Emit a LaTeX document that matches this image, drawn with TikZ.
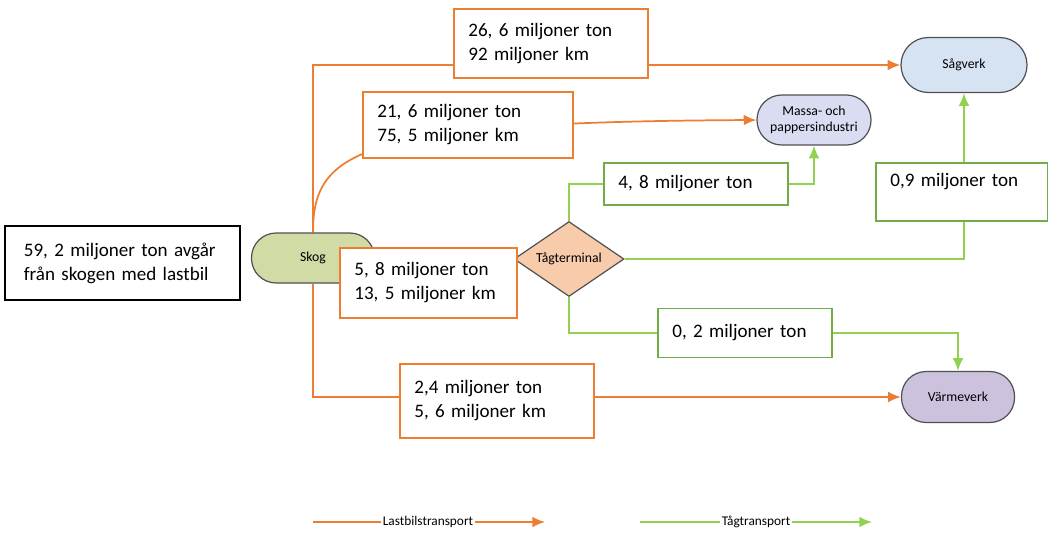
\documentclass[tikz,border=0pt]{standalone}
\usepackage{fontspec}
\setmainfont{Carlito}
\usepackage{xcolor}
\usepackage{tikz}
\usetikzlibrary{shapes,arrows,arrows.meta,positioning,calc}
\usetikzlibrary{shapes.geometric}
\usetikzlibrary{backgrounds}

\definecolor{truckorange}{RGB}{237,125,49}
\definecolor{traingreen}{RGB}{146,208,80}
\definecolor{boxgreen}{RGB}{112,173,71}
\definecolor{shapegray}{RGB}{80,80,80}
\definecolor{skoggreen}{RGB}{209,219,166}
\definecolor{massablue}{RGB}{218,221,242}
\definecolor{sagblue}{RGB}{214,227,242}
\definecolor{varmepurple}{RGB}{204,194,222}
\definecolor{terminalpeach}{RGB}{248,203,170}

\tikzset{
	endpoint/.style={draw=shapegray, line width=0.9pt, rounded corners=18.5pt, inner sep=0pt, align=center, font=\fontsize{10.3}{12}\selectfont},
	flowbox/.style={fill=white, line width=1.3pt, align=left, inner xsep=10.75pt, font=\fontsize{14.3}{18}\selectfont},
	truckbox/.style={flowbox, draw=truckorange},
	trainbox/.style={flowbox, draw=boxgreen},
	truck/.style={draw=truckorange, line width=1.3pt},
	train/.style={draw=traingreen, line width=1.3pt},
	flow/.style={-{Latex[length=9.5pt,width=8pt]}},
	legendtext/.style={inner sep=1pt, font=\fontsize{10}{12}\selectfont}
}

\begin{document}
\begin{tikzpicture}[x=0.75pt,y=-0.75pt]
	\useasboundingbox (0,0) rectangle (1048,532);
	
	% start and end points
	\node[draw=black, line width=1.3pt, align=left, inner xsep=14pt, text width=148pt, minimum height=55.5pt, font=\fontsize{14.3}{18}\selectfont] (info) at (122.5,263) {59, 2 miljoner ton avgår\\från skogen med lastbil};
	\node[endpoint, fill=skoggreen, minimum width=92.25pt, minimum height=37.5pt] (skog) at (313,258) {Skog};
	\node[endpoint, fill=massablue, minimum width=85.5pt, minimum height=37.5pt] (massa) at (814,120) {Massa- och\\pappersindustri};
	\node[endpoint, fill=sagblue, rounded corners=20.5pt, minimum width=94.5pt, minimum height=41.25pt] (sagverk) at (964,65) {Sågverk};
	\node[endpoint, fill=varmepurple, minimum width=84.75pt, minimum height=38.25pt] (varme) at (958,397) {Värmeverk};
	\node[diamond, aspect=1.5, draw=shapegray, line width=0.9pt, fill=terminalpeach, inner sep=0pt, minimum width=82.5pt, minimum height=56.25pt, font=\fontsize{10.3}{12}\selectfont] (terminal) at (569,259) {Tågterminal};
	
	% amounts by truck
	\node[truckbox, text width=124pt, minimum height=51.75pt] (tosag) at (551,43.5) {26, 6 miljoner ton\\92 miljoner km};
	\node[truckbox, text width=136pt, minimum height=49.5pt] (tomassa) at (468,125) {21, 6 miljoner ton\\75, 5 miljoner km};
	\node[truckbox, text width=111.25pt, minimum height=52.5pt] (toterminal) at (428.5,283) {5, 8 miljoner ton\\13, 5 miljoner km};
	\node[truckbox, text width=124pt, minimum height=55.5pt] (tovarme) at (497,401) {2,4 miljoner ton\\5, 6 miljoner km};
	
	% amounts by train
	\node[trainbox, text width=116.5pt, minimum height=31.5pt] (railmassa) at (696,184) {4, 8 miljoner ton};
	\node[trainbox, text width=107.5pt, minimum height=43.5pt] (railsag) at (962,192) {0,9 miljoner ton\\\mbox{}};
	\node[trainbox, text width=109pt, minimum height=36.75pt] (railvarme) at (745,333) {0, 2 miljoner ton};
	
	\begin{scope}[on background layer]
		\draw[truck,flow] (skog.north) |- (sagverk.west);
		\draw[truck,flow] (skog.north) .. controls (313,150) and (360,122) .. (massa.west);
		\draw[truck,flow] (skog.east) -- (terminal.west);
		\draw[truck,flow] (skog.south) |- (varme.west);
		
		\draw[train,flow] (terminal.north) |- (railmassa) -| (massa.south);
		\draw[train,flow] (terminal.east) -| (sagverk.south);
		\draw[train,flow] (terminal.south) |- (railvarme) -| (varme.north);
	\end{scope}
	
	% legend
	\coordinate (truckstart) at (313,522);
	\coordinate (truckend) at (545,522);
	\node[legendtext] (lastbil) at (428,522) {Lastbilstransport};
	\draw[truck] (truckstart) -- (lastbil);
	\draw[truck,flow] (lastbil) -- (truckend);
	
	\coordinate (trainstart) at (640,522);
	\coordinate (trainend) at (872,522);
	\node[legendtext] (tag) at (756,522) {Tågtransport};
	\draw[train] (trainstart) -- (tag);
	\draw[train,flow] (tag) -- (trainend);
\end{tikzpicture}
\end{document}
